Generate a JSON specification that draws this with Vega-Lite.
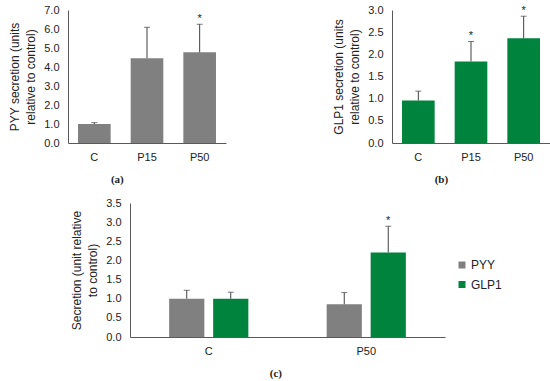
{
  "$schema": "https://vega.github.io/schema/vega-lite/v6.json",
  "padding": {"left": 8, "top": 4, "right": 0, "bottom": 0},
  "config": {
    "font": "Liberation Sans",
    "view": {"stroke": null},
    "axis": {"domainColor": "#595959", "ticks": false, "grid": false, "labelColor": "#222222", "titleColor": "#222222", "labelFontSize": 11, "titleFontSize": 12, "titleLineHeight": 16, "titleFontWeight": "normal", "labelFont": "Liberation Sans", "titleFont": "Liberation Sans", "labelOverlap": false},
    "legend": {"labelFontSize": 12, "labelColor": "#222222", "labelFont": "Liberation Sans"}
  },
  "vconcat": [
    {
      "hconcat": [
        {
          "width": 158, "height": 133,
          "title": {"text": "(a)", "orient": "bottom", "anchor": "middle", "frame": "bounds", "font": "Liberation Serif", "fontSize": 11, "fontWeight": "bold", "offset": 12, "color": "#222222"},
          "data": {"values": [
            {"group": "C", "mean": 1.0, "hi": 1.07, "sig": ""},
            {"group": "P15", "mean": 4.46, "hi": 6.09, "sig": ""},
            {"group": "P50", "mean": 4.77, "hi": 6.25, "sig": "*"}
          ]},
          "encoding": {"x": {"field": "group", "type": "nominal", "sort": null, "scale": {"paddingInner": 0.38, "paddingOuter": 0.19}, "axis": {"title": null, "labelAngle": 0, "labelPadding": 8}}},
          "layer": [
            {"mark": {"type": "bar", "color": "#808080"}, "encoding": {"y": {"field": "mean", "type": "quantitative", "scale": {"domain": [0, 7]}, "axis": {"title": ["PYY secretion (units", "relative to control)"], "values": [0, 1, 2, 3, 4, 5, 6, 7], "format": ".1f", "labelPadding": 9, "titlePadding": 6, "labelOverlap": false}}}},
            {"mark": {"type": "rule", "color": "#404040"}, "encoding": {"y": {"field": "mean", "type": "quantitative", "axis": {"title": ["PYY secretion (units", "relative to control)"], "values": [0, 1, 2, 3, 4, 5, 6, 7], "format": ".1f", "labelPadding": 9, "titlePadding": 6, "labelOverlap": false}}, "y2": {"field": "hi"}}},
            {"mark": {"type": "tick", "color": "#404040", "size": 6, "thickness": 1}, "encoding": {"y": {"field": "hi", "type": "quantitative", "axis": {"title": ["PYY secretion (units", "relative to control)"], "values": [0, 1, 2, 3, 4, 5, 6, 7], "format": ".1f", "labelPadding": 9, "titlePadding": 6, "labelOverlap": false}}}},
            {"mark": {"type": "text", "dy": -5, "fontSize": 11, "color": "#222222"}, "encoding": {"y": {"field": "hi", "type": "quantitative", "axis": {"title": ["PYY secretion (units", "relative to control)"], "values": [0, 1, 2, 3, 4, 5, 6, 7], "format": ".1f", "labelPadding": 9, "titlePadding": 6, "labelOverlap": false}}, "text": {"field": "sig"}}}
          ]
        },
        {
          "width": 158, "height": 133,
          "title": {"text": "(b)", "orient": "bottom", "anchor": "middle", "frame": "bounds", "font": "Liberation Serif", "fontSize": 11, "fontWeight": "bold", "offset": 12, "color": "#222222"},
          "data": {"values": [
            {"group": "C", "mean": 0.96, "hi": 1.17, "sig": ""},
            {"group": "P15", "mean": 1.84, "hi": 2.29, "sig": "*"},
            {"group": "P50", "mean": 2.36, "hi": 2.86, "sig": "*"}
          ]},
          "encoding": {"x": {"field": "group", "type": "nominal", "sort": null, "scale": {"paddingInner": 0.38, "paddingOuter": 0.19}, "axis": {"title": null, "labelAngle": 0, "labelPadding": 8}}},
          "layer": [
            {"mark": {"type": "bar", "color": "#00843D"}, "encoding": {"y": {"field": "mean", "type": "quantitative", "scale": {"domain": [0, 3]}, "axis": {"title": ["GLP1 secretion (units", "relative to control)"], "values": [0, 0.5, 1, 1.5, 2, 2.5, 3], "format": ".1f", "labelPadding": 9, "titlePadding": 6, "labelOverlap": false}}}},
            {"mark": {"type": "rule", "color": "#404040"}, "encoding": {"y": {"field": "mean", "type": "quantitative", "axis": {"title": ["GLP1 secretion (units", "relative to control)"], "values": [0, 0.5, 1, 1.5, 2, 2.5, 3], "format": ".1f", "labelPadding": 9, "titlePadding": 6, "labelOverlap": false}}, "y2": {"field": "hi"}}},
            {"mark": {"type": "tick", "color": "#404040", "size": 6, "thickness": 1}, "encoding": {"y": {"field": "hi", "type": "quantitative", "axis": {"title": ["GLP1 secretion (units", "relative to control)"], "values": [0, 0.5, 1, 1.5, 2, 2.5, 3], "format": ".1f", "labelPadding": 9, "titlePadding": 6, "labelOverlap": false}}}},
            {"mark": {"type": "text", "dy": -5, "fontSize": 11, "color": "#222222"}, "encoding": {"y": {"field": "hi", "type": "quantitative", "axis": {"title": ["GLP1 secretion (units", "relative to control)"], "values": [0, 0.5, 1, 1.5, 2, 2.5, 3], "format": ".1f", "labelPadding": 9, "titlePadding": 6, "labelOverlap": false}}, "text": {"field": "sig"}}}
          ]
        }
      ],
      "spacing": 106
    },
    {
      "hconcat": [
        {"width": 1, "height": 134, "data": {"values": []}, "mark": "point"},
        {
          "width": 315, "height": 134,
          "title": {"text": "(c)", "orient": "bottom", "anchor": "middle", "frame": "bounds", "font": "Liberation Serif", "fontSize": 11, "fontWeight": "bold", "offset": 12, "dx": 18, "color": "#222222"},
          "data": {"values": [
            {"group": "C", "hormone": "PYY", "mean": 1.0, "hi": 1.22, "sig": ""},
            {"group": "C", "hormone": "GLP1", "mean": 1.0, "hi": 1.17, "sig": ""},
            {"group": "P50", "hormone": "PYY", "mean": 0.855, "hi": 1.16, "sig": ""},
            {"group": "P50", "hormone": "GLP1", "mean": 2.21, "hi": 2.89, "sig": "*"}
          ]},
          "encoding": {
            "x": {"field": "group", "type": "nominal", "sort": null, "scale": {"paddingInner": 0, "paddingOuter": 0}, "axis": {"title": null, "labelAngle": 0, "labelPadding": 8}},
            "xOffset": {"field": "hormone", "type": "nominal", "sort": ["PYY", "GLP1"], "scale": {"paddingInner": 0.2, "paddingOuter": 0.89}}
          },
          "layer": [
            {"mark": {"type": "bar"}, "encoding": {
              "y": {"field": "mean", "type": "quantitative", "scale": {"domain": [0, 3.5]}, "axis": {"title": ["Secretion (unit relative", "to control)"], "values": [0, 0.5, 1, 1.5, 2, 2.5, 3, 3.5], "format": ".1f", "labelPadding": 9, "titlePadding": 6, "labelOverlap": false}},
              "color": {"field": "hormone", "type": "nominal", "sort": ["PYY", "GLP1"], "scale": {"domain": ["PYY", "GLP1"], "range": ["#808080", "#00843D"]}, "legend": {"title": null, "orient": "none", "legendX": 388, "legendY": 249, "symbolType": "square", "symbolSize": 49, "rowPadding": 7.5, "labelOffset": 3}}
            }},
            {"mark": {"type": "rule", "color": "#404040"}, "encoding": {"y": {"field": "mean", "type": "quantitative", "axis": {"title": ["Secretion (unit relative", "to control)"], "values": [0, 0.5, 1, 1.5, 2, 2.5, 3, 3.5], "format": ".1f", "labelPadding": 9, "titlePadding": 6, "labelOverlap": false}}, "y2": {"field": "hi"}}},
            {"mark": {"type": "tick", "color": "#404040", "size": 6, "thickness": 1}, "encoding": {"y": {"field": "hi", "type": "quantitative", "axis": {"title": ["Secretion (unit relative", "to control)"], "values": [0, 0.5, 1, 1.5, 2, 2.5, 3, 3.5], "format": ".1f", "labelPadding": 9, "titlePadding": 6, "labelOverlap": false}}}},
            {"mark": {"type": "text", "dy": -5, "fontSize": 11, "color": "#222222"}, "encoding": {"y": {"field": "hi", "type": "quantitative", "axis": {"title": ["Secretion (unit relative", "to control)"], "values": [0, 0.5, 1, 1.5, 2, 2.5, 3, 3.5], "format": ".1f", "labelPadding": 9, "titlePadding": 6, "labelOverlap": false}}, "text": {"field": "sig"}}}
          ]
        }
      ],
      "spacing": 1
    }
  ],
  "spacing": 12
}
